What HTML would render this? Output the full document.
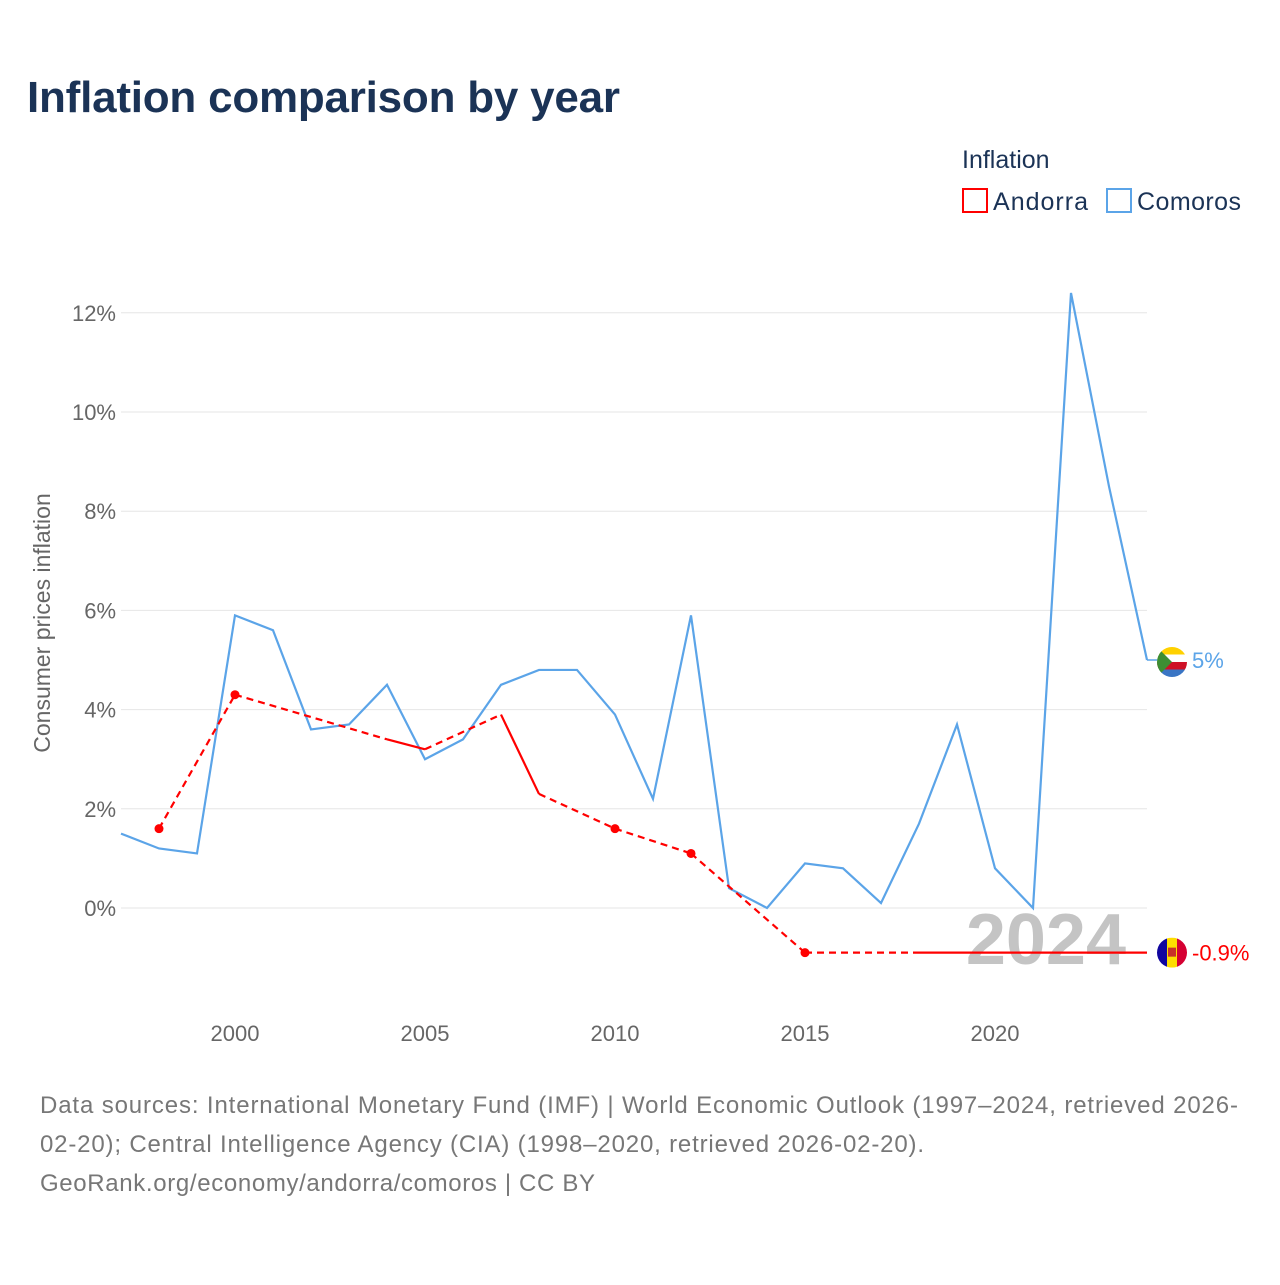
<!DOCTYPE html>
<html><head><meta charset="utf-8">
<style>
body{margin:0;background:#fff;font-family:"Liberation Sans",sans-serif;}
#wrap{position:relative;width:1280px;height:1280px;}
</style></head>
<body><div id="wrap">
<svg id="svg" width="1280" height="1280" xmlns="http://www.w3.org/2000/svg">
<text x="27" y="112" font-size="44" font-weight="bold" fill="#1b3356" textLength="593">Inflation comparison by year</text>
<text x="962" y="168" font-size="25" fill="#1b3356">Inflation</text>
<g><rect x="963" y="189" width="24" height="23" fill="none" stroke="#f00" stroke-width="2"/><text x="993" y="210" font-size="25" fill="#1b3356" textLength="95">Andorra</text></g>
<g><rect x="1107" y="189" width="24" height="23" fill="none" stroke="#5ba4e8" stroke-width="2"/><text x="1137" y="210" font-size="25" fill="#1b3356" textLength="104">Comoros</text></g>
<text transform="translate(50,623) rotate(-90)" text-anchor="middle" font-size="23" fill="#666">Consumer prices inflation</text>
<g id="grid"></g><g id="xt"></g>
<text x="1126" y="964" text-anchor="end" font-size="72" font-weight="bold" fill="#c4c4c4">2024</text>
<g id="series"></g>
<text x="40" y="1113" font-size="24" fill="#777" textLength="1198">Data sources: International Monetary Fund (IMF) | World Economic Outlook (1997–2024, retrieved 2026-</text>
<text x="40" y="1152" font-size="24" fill="#777" textLength="884">02-20); Central Intelligence Agency (CIA) (1998–2020, retrieved 2026-02-20).</text>
<text x="40" y="1191" font-size="24" fill="#777" textLength="555">GeoRank.org/economy/andorra/comoros | CC BY</text>
</svg></div>
<script>
const yTicks=[0,2,4,6,8,10,12];
const xTicks=[2000,2005,2010,2015,2020];
const comYears=[1997,1998,1999,2000,2001,2002,2003,2004,2005,2006,2007,2008,2009,2010,2011,2012,2013,2014,2015,2016,2017,2018,2019,2020,2021,2022,2023,2024];
const comVals=[1.5,1.2,1.1,5.9,5.6,3.6,3.7,4.5,3.0,3.4,4.5,4.8,4.8,3.9,2.2,5.9,0.4,0.0,0.9,0.8,0.1,1.7,3.7,0.8,0.0,12.4,8.5,5.0];
const andYears=[1998,2000,2004,2005,2007,2008,2010,2012,2015,2018,2019,2020,2021,2022,2023,2024];
const andVals=[1.6,4.3,3.4,3.2,3.9,2.3,1.6,1.1,-0.9,-0.9,-0.9,-0.9,-0.9,-0.9,-0.9,-0.9];
const X=y=>235+(y-2000)*38;
const Y=v=>908-v*49.6;
const NS="http://www.w3.org/2000/svg";
function mk(t,a,p){const e=document.createElementNS(NS,t);for(const k in a)e.setAttribute(k,a[k]);p.appendChild(e);return e;}
const g=document.getElementById('grid'),xt=document.getElementById('xt'),s=document.getElementById('series');
yTicks.forEach(v=>{
 const l=mk('line',{x1:121,x2:1147,y1:Y(v),y2:Y(v),stroke:'#e6e6e6','stroke-width':1},g);
 
 
 const t=mk('text',{x:116,y:Y(v)+8,'text-anchor':'end','font-size':22,fill:'#666'},g);t.textContent=v+'%';
 
 
});
xTicks.forEach(v=>{
 const t=mk('text',{x:X(v),y:1041,'text-anchor':'middle','font-size':22,fill:'#666'},xt);t.textContent=v;
 
 
});
const cp=mk('polyline',{points:comYears.map((y,i)=>X(y)+','+Y(comVals[i])).join(' '),fill:'none',stroke:'#5ba4e8','stroke-width':2.2},s);


for(let i=0;i<andYears.length-1;i++){
 const gap=andYears[i+1]-andYears[i]>1;
 const a={x1:X(andYears[i]),y1:Y(andVals[i]),x2:X(andYears[i+1]),y2:Y(andVals[i+1]),stroke:'#f00','stroke-width':2.2};
 if(gap)a['stroke-dasharray']='7,5';
 const l=mk('line',a,s);
 
 
}
andYears.forEach((y,i)=>{
 const prev=i>0&&andYears[i-1]===y-1, next=i<andYears.length-1&&andYears[i+1]===y+1;
 if(!prev&&!next){const c=mk('circle',{cx:X(y),cy:Y(andVals[i]),r:4.5,fill:'#f00'},s);
 
 }
});
const lc=comVals[comVals.length-1], la=andVals[andVals.length-1];
const ce=mk('line',{x1:X(2024),x2:1160,y1:Y(lc),y2:Y(lc),stroke:'#5ba4e8','stroke-width':1.5},s);


const fc=mk('g',{},s);


const cpc=mk('clipPath',{id:'cc'},fc);
mk('circle',{cx:1172,cy:Y(lc)+2,r:15},cpc);
const cy0=Y(lc)+2-15;
[['#ffd100',0],['#fff',7.5],['#ce1126',15],['#3a75c4',22.5]].forEach(([c,o])=>mk('rect',{x:1157,y:cy0+o,width:30,height:7.5,fill:c,'clip-path':'url(#cc)'},fc));
mk('polygon',{points:`1157,${cy0} 1172,${cy0+15} 1157,${cy0+30}`,fill:'#3d8e33','clip-path':'url(#cc)'},fc);
const tc=mk('text',{x:1192,y:Y(lc)+8,'font-size':22,fill:'#5ba4e8'},s);tc.textContent=lc+'%';


const fa=mk('g',{},s);


const ay=Y(la);
const cpa=mk('clipPath',{id:'ca'},fa);
mk('circle',{cx:1172,cy:ay,r:15},cpa);
mk('rect',{x:1157,y:ay-15,width:10,height:30,fill:'#10069f','clip-path':'url(#ca)'},fa);
mk('rect',{x:1167,y:ay-15,width:10,height:30,fill:'#fedd00','clip-path':'url(#ca)'},fa);
mk('rect',{x:1177,y:ay-15,width:10,height:30,fill:'#d50032','clip-path':'url(#ca)'},fa);
mk('rect',{x:1168,y:ay-5,width:8,height:9,fill:'#c7302a'},fa);
const ta=mk('text',{x:1192,y:ay+8,'font-size':22,fill:'#f00'},s);ta.textContent=la+'%';


</script>
</body></html>
